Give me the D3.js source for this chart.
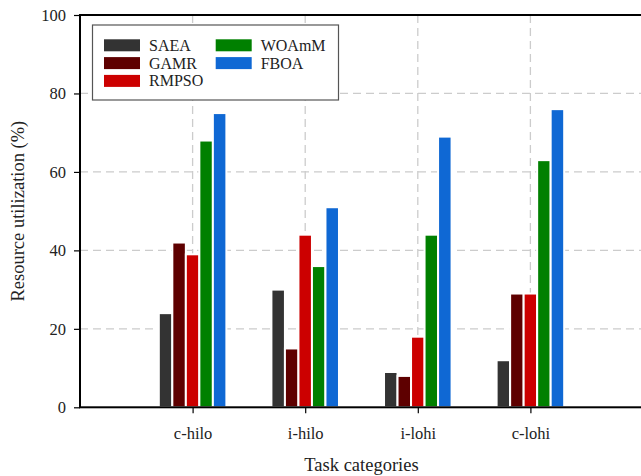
<!DOCTYPE html>
<html><head><meta charset="utf-8">
<script src="https://cdn.jsdelivr.net/npm/d3@7"></script>
<style>body{margin:0;background:#fff}svg{display:block}</style>
</head><body><svg id="c" width="641" height="476"></svg>
<script>
const categories = ["c-hilo","i-hilo","i-lohi","c-lohi"];
const seriesNames = ["SAEA","GAMR","RMPSO","WOAmM","FBOA"];
const seriesColors = ["#333333","#5e0000","#cc0000","#008000","#0f68d4"];
const SAEA  = [24,30,9,12];
const GAMR  = [42,15,8,29];
const RMPSO = [39,44,18,29];
const WOAmM = [68,36,44,63];
const FBOA  = [75,51,69,76];
const yTicks = [0,20,40,60,80,100];
const seriesValues = [SAEA,GAMR,RMPSO,WOAmM,FBOA];

const FONT = "Liberation Serif";
const svg = d3.select("#c");
const L=80, R=643, T=15, B=407.3;
const x = d3.scaleLinear().domain([0,5]).range([L,R]);
const y = d3.scaleLinear().domain([0,100]).range([B,T]);
const barW = 0.12;

// grid
const g = svg.append("g");
g.selectAll(".hg").data(yTicks.filter(v=>v>0&&v<100)).join("line")
  .attr("x1",L).attr("x2",R).attr("y1",d=>y(d)).attr("y2",d=>y(d))
  .attr("stroke","#cccccc").attr("stroke-width",1.3).attr("stroke-dasharray","8,5");
g.selectAll(".vg").data(categories).join("line")
  .attr("x1",(d,i)=>x(i+1)).attr("x2",(d,i)=>x(i+1)).attr("y1",T).attr("y2",B)
  .attr("stroke","#cccccc").attr("stroke-width",1.3).attr("stroke-dasharray","8,5");

// bars
seriesValues.forEach((vals,s)=>{
  svg.append("g").selectAll("rect").data(vals).join("rect")
    .attr("x",(d,i)=>x(i+1+(s-2)*barW-barW/2))
    .attr("width",x(barW)-x(0))
    .attr("y",d=>y(d))
    .attr("height",d=>B-y(d))
    .attr("fill",seriesColors[s])
    .attr("stroke","#ffffff").attr("stroke-width",2);
});

// axes
const yAxis = d3.axisLeft(y).tickValues(yTicks).tickSize(6).tickPadding(8);
const ya = svg.append("g").attr("transform",`translate(${L},0)`).call(yAxis);
ya.select(".domain").remove();
ya.selectAll("text").style("font-family",FONT).style("font-size","16.5px").attr("fill","#222");
ya.selectAll("line").attr("stroke","#000").attr("stroke-width",1.2);

const xAxis = d3.axisBottom(x).tickValues([1,2,3,4]).tickFormat((d)=>categories[d-1]).tickSize(6).tickPadding(14);
const xa = svg.append("g").attr("transform",`translate(0,${B})`).call(xAxis);
xa.select(".domain").remove();
xa.selectAll("text").style("font-family",FONT).style("font-size","16.5px").attr("fill","#222");
xa.selectAll("line").attr("stroke","#000").attr("stroke-width",1.2);

// frame
svg.append("rect").attr("x",L).attr("y",T).attr("width",R-L).attr("height",B-T)
  .attr("fill","none").attr("stroke","#000").attr("stroke-width",2);

// titles
svg.append("text").attr("x",(L+R)/2).attr("y",471).attr("text-anchor","middle")
  .style("font-family",FONT).style("font-size","18.5px").attr("fill","#222").text("Task categories");
svg.append("text").attr("transform",`translate(24,${(T+B)/2}) rotate(-90)`).attr("text-anchor","middle")
  .style("font-family",FONT).style("font-size","18.5px").attr("fill","#222").text("Resource utilization (%)");

// legend
const lg = svg.append("g");
lg.append("rect").attr("x",92.5).attr("y",25).attr("width",246).attr("height",75)
  .attr("fill","#fff").attr("stroke","#555").attr("stroke-width",1.2);
seriesNames.forEach((n,i)=>{
  const col = i<3?0:1, row = i<3?i:i-3;
  const px = col===0?104:215.7, py = 39.3+row*17.8;
  lg.append("rect").attr("x",px).attr("y",py).attr("width",36).attr("height",12).attr("fill",seriesColors[i]);
  lg.append("text").attr("x",px+45).attr("y",py+11.5).style("font-family",FONT).style("font-size","16px")
    .attr("fill","#222").text(n);
});
</script></body></html>
